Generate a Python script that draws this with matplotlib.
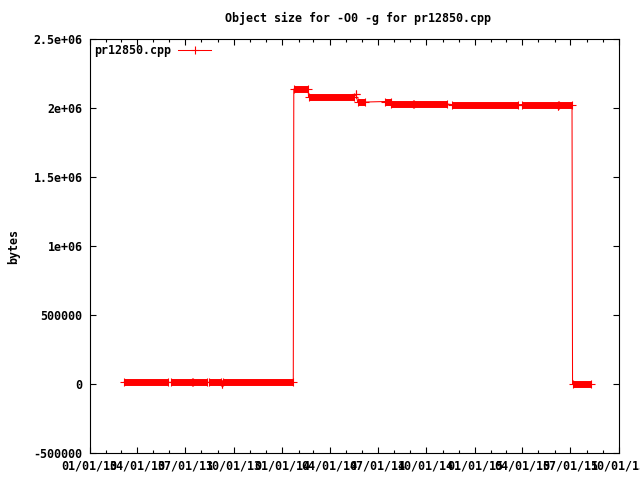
import matplotlib
matplotlib.use("Agg")
import matplotlib.pyplot as plt
import matplotlib.dates as mdates
from matplotlib.lines import Line2D
import datetime as dt

# Data: runs of (nearly) daily samples, as start date, end date, object size
seg_start = ["2013-03-07", "2013-06-04", "2013-07-16", "2013-08-15", "2013-09-09",
             "2013-09-10", "2014-01-23", "2014-02-20", "2014-05-21", "2014-05-24",
             "2014-07-15", "2014-07-27", "2014-09-08", "2014-11-19", "2015-03-31",
             "2015-06-08", "2015-06-09", "2015-07-05"]
seg_end = ["2013-05-29", "2013-07-14", "2013-08-11", "2013-09-08", "2013-09-09",
           "2014-01-22", "2014-02-19", "2014-05-17", "2014-05-21", "2014-06-06",
           "2014-07-26", "2014-09-06", "2014-11-10", "2015-03-23", "2015-06-07",
           "2015-06-08", "2015-07-04", "2015-08-09"]
seg_value = [12000, 12000, 12000, 12000, 0,
             12000, 2137000, 2079000, 2100000, 2043000,
             2047000, 2029000, 2029000, 2024000, 2025000,
             2012000, 2025000, 0]

series_name = "pr12850.cpp"
title = "Object size for -O0 -g for pr12850.cpp"
ylabel = "bytes"
ytick_vals = [-500000, 0, 500000, 1000000, 1500000, 2000000, 2500000]
ytick_labels = ["-500000", "0", "500000", "1e+06", "1.5e+06", "2e+06", "2.5e+06"]
xlim = ("2013-01-01", "2015-10-01")

FONT = {"family": "DejaVu Sans Mono", "weight": "bold", "size": 8.4}
plt.rcParams["font.family"] = "DejaVu Sans Mono"
plt.rcParams["font.weight"] = "bold"
plt.rcParams["font.size"] = 8.4

def d(s):
    return dt.datetime.strptime(s, "%Y-%m-%d")

starts = [d(s) for s in seg_start]
ends = [d(s) for s in seg_end]

fig = plt.figure(figsize=(6.4, 4.8), dpi=100)
ax = fig.add_axes([89.5 / 640, 1 - 453 / 480, (619 - 89.5) / 640, (453 - 39) / 480])

red = "#ff0000"
# connecting line
lx, ly = [], []
for s, e, v in zip(starts, ends, seg_value):
    lx += [s, e]
    ly += [v, v]
ax.plot(lx, ly, color=red, lw=0.75, zorder=2)
# dense marker bands
ax.hlines(seg_value, starts, ends, colors=red, lw=5.0, capstyle="butt", zorder=3)
# end markers
ax.plot(lx, ly, linestyle="none", marker="+", ms=5.5, mew=0.8, color=red, zorder=4)

ax.set_xlim(d(xlim[0]), d(xlim[1]))
ax.set_ylim(-500000, 2500000)
ax.set_yticks(ytick_vals)
ax.set_yticklabels(ytick_labels)
ax.xaxis.set_major_locator(mdates.MonthLocator(bymonth=[1, 4, 7, 10]))
ax.xaxis.set_minor_locator(mdates.MonthLocator())
ax.xaxis.set_major_formatter(mdates.DateFormatter("%m/%d/%y"))
ax.tick_params(axis="both", which="major", direction="in", length=4, width=0.8,
               top=True, right=True, labelsize=8.4, pad=5)
ax.tick_params(axis="x", which="minor", direction="in", length=2, width=0.8,
               top=True, bottom=True)
for sp in ax.spines.values():
    sp.set_linewidth(0.8)

ax.set_ylabel(ylabel, fontdict=FONT)
ax.yaxis.set_label_coords((20 - 89.5) / 529.5, 0.5)
fig.text(358 / 640, 1 - 18 / 480, title, ha="center", va="center", fontdict=FONT)

h = Line2D([], [], color=red, lw=0.75, marker="+", ms=5.5, mew=0.8)
ax.legend([h], [series_name], loc="upper left", frameon=False, markerfirst=False,
          handlelength=2.8, borderaxespad=0.2, borderpad=0.2, handletextpad=0.6,
          prop=FONT)

fig.savefig("out.png", dpi=100)
